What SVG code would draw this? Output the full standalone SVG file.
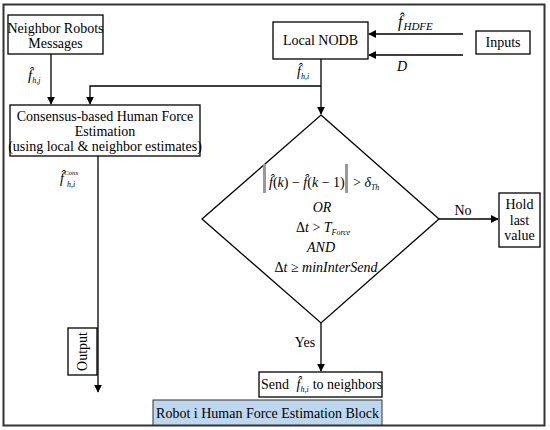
<svg xmlns="http://www.w3.org/2000/svg" width="550" height="430" viewBox="0 0 550 430">
<style>
text{font-family:'Liberation Serif','Times New Roman',serif;fill:#000}
.t{font-size:14px;text-anchor:middle}
.m{font-size:14px;font-style:italic}
.n{font-style:normal}
.i{font-style:italic}
.s{font-size:8px;font-style:italic}
.box{fill:#fff;stroke:#000;stroke-width:1.3}
.ln{fill:none;stroke:#000;stroke-width:1.3}
.bar{fill:#999}
</style>
<defs>
<marker id="ah" viewBox="0 0 10 10" refX="9" refY="5" markerWidth="8" markerHeight="8" markerUnits="userSpaceOnUse" orient="auto">
<path d="M0,0 L10,5 L0,10 Z" fill="#000"/>
</marker>
</defs>
<rect x="0" y="0" width="550" height="430" fill="#fff"/>
<rect x="3.5" y="4.5" width="541" height="421" fill="none" stroke="#333" stroke-width="2"/>

<g id="connectors">
<line class="ln" x1="51" y1="54" x2="51" y2="104" marker-end="url(#ah)"/>
<polyline class="ln" points="321,86 90,86 90,104" marker-end="url(#ah)"/>
<line class="ln" x1="321" y1="59" x2="321" y2="114" marker-end="url(#ah)"/>
<line class="ln" x1="463" y1="34" x2="369" y2="34" marker-end="url(#ah)"/>
<line class="ln" x1="463" y1="55" x2="369" y2="55" marker-end="url(#ah)"/>
<line class="ln" x1="98" y1="156" x2="98" y2="392" marker-end="url(#ah)"/>
<line class="ln" x1="439" y1="219" x2="498" y2="219" marker-end="url(#ah)"/>
<line class="ln" x1="321" y1="323" x2="321" y2="371" marker-end="url(#ah)"/>
<text class="m" x="28" y="80" style="font-size:15px">f̂<tspan style="font-size:8px" dy="3">h,j</tspan></text>
<text class="m" x="297" y="76">f̂<tspan style="font-size:8px" dy="3">h,i</tspan></text>
<text class="m" x="398" y="27" style="font-size:16px">f̂<tspan style="font-size:11px" dx="1" dy="3">HDFE</tspan></text>
<text class="m" x="397" y="71">D</text>
<text class="m" x="60" y="183">f̂<tspan style="font-size:7px" dy="-8">Cons</tspan></text>
<text class="s" x="67" y="187">h,i</text>
<text class="t" x="463" y="215">No</text>
<text class="t" x="305" y="347">Yes</text>
</g>

<g id="neighbor">
<rect class="box" x="8" y="15" width="95" height="39"/>
<text class="t" x="55.5" y="33">Neighbor Robots</text>
<text class="t" x="55.5" y="48">Messages</text>
</g>

<g id="nodb">
<rect class="box" x="273" y="22" width="95" height="37"/>
<text class="t" x="320.5" y="45">Local NODB</text>
</g>

<g id="inputs">
<rect class="box" x="476" y="31" width="54" height="23"/>
<text class="t" x="503" y="47">Inputs</text>
</g>

<g id="consensus">
<rect class="box" x="10" y="105" width="190" height="51"/>
<text class="t" x="105" y="121">Consensus-based Human Force</text>
<text class="t" x="105" y="136">Estimation</text>
<text class="t" x="105" y="151">(using local &amp; neighbor estimates)</text>
</g>

<g id="decision">
<polygon class="box" points="321,115 439,219 321,323 202,219"/>
<rect class="bar" x="263" y="164" width="3" height="29"/>
<text class="m" x="269" y="187">f̂<tspan class="n">(</tspan>k<tspan class="n">) − </tspan>f̂<tspan class="n">(</tspan>k<tspan class="n"> − 1)</tspan></text>
<rect class="bar" x="345" y="164" width="3" height="29"/>
<text class="m" x="353" y="187"><tspan class="n">&gt; </tspan>δ<tspan style="font-size:8px" dy="3">Th</tspan></text>
<text class="m" x="322" y="212" text-anchor="middle">OR</text>
<text class="m" x="296" y="232"><tspan class="n">Δ</tspan>t <tspan class="n">&gt;</tspan> T<tspan style="font-size:8px" dy="3">Force</tspan></text>
<text class="m" x="321" y="252" text-anchor="middle">AND</text>
<text class="m" x="326" y="272" text-anchor="middle"><tspan class="n">Δ</tspan>t <tspan class="n">≥</tspan> minInterSend</text>
</g>

<g id="hold">
<rect class="box" x="499" y="193" width="41" height="54"/>
<text class="t" x="519.5" y="209">Hold</text>
<text class="t" x="519.5" y="225">last</text>
<text class="t" x="519.5" y="240">value</text>
</g>

<g id="output">
<rect class="box" x="68" y="328" width="29" height="47"/>
<text class="t" transform="translate(87,351.5) rotate(-90)">Output</text>
</g>

<g id="send">
<rect class="box" x="259" y="372" width="123" height="25"/>
<text x="261" y="389" style="font-size:14px">Send <tspan class="i" dx="4">f̂</tspan><tspan class="i" style="font-size:8px" dy="3">h,i</tspan><tspan dx="4" dy="-3">to neighbors</tspan></text>
</g>

<g id="banner">
<rect x="153" y="400" width="229" height="25" fill="#bdd7ee" stroke="#333" stroke-width="1"/>
<text class="t" x="267.5" y="418">Robot i Human Force Estimation Block</text>
</g>
</svg>
